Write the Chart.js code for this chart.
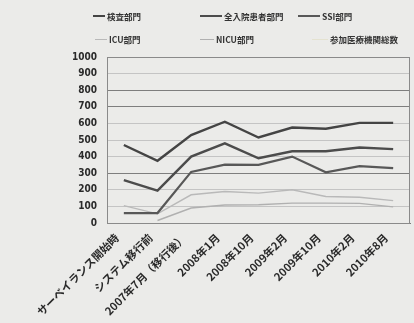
<!DOCTYPE html>
<html>
<head>
<meta charset="utf-8">
<script src="https://cdn.jsdelivr.net/npm/chart.js@4/dist/chart.umd.min.js"></script>
<style>
  html, body { margin: 0; padding: 0; background: #ebebe9; }
  #wrap { position: relative; width: 414px; height: 323px; overflow: hidden; }
  #chart { position: absolute; left: 0; top: 0; }
  .leg { position: absolute; display: flex; align-items: center; font-family: "Noto Sans CJK JP", sans-serif; font-weight: 700; font-size: 8.5px; color: #333; white-space: nowrap; }
  .leg i { display: inline-block; height: 0; margin-right: 2px; }
</style>
</head>
<body>
<div id="wrap">
  <canvas id="chart" width="414" height="323"></canvas>
</div>
<script>
// 調査時点
const periods = ['サーベイランス開始時', 'システム移行前', '2007年7月（移行後）', '2008年1月', '2008年10月', '2009年2月', '2009年10月', '2010年2月', '2010年8月'];

// 部門名
const seriesNames = ['検査部門', '全入院患者部門', 'SSI部門', 'ICU部門', 'NICU部門', '参加医療機関総数'];

// 部門別の参加施設数
const kensa    = [470, 375, 530, 610, 515, 575, 568, 603, 603];
const zennyuin = [258, 195, 400, 480, 390, 432, 432, 455, 445];
const ssi      = [60, 60, 308, 352, 350, 400, 305, 343, 330];
const icu      = [105, 55, 170, 190, 180, 200, 160, 155, 135];
const nicu     = [null, 15, 90, 108, 110, 120, 120, 118, 97];
const sanka    = [];

const yTicks = [0, 100, 200, 300, 400, 500, 600, 700, 800, 900, 1000];

const seriesData = [kensa, zennyuin, ssi, icu, nicu, sanka];
const colors = ['#444444', '#4c4c4c', '#585858', '#b9b9b9', '#b0b0b0', '#e4e2d0'];
const widths = [2.4, 2.4, 2.2, 1.4, 1.4, 1.4];

// 凡例（2段3列）
const legendPos = [
  [93, 17, 12], [200, 17, 22], [298, 17, 22],
  [95, 40, 12], [200, 40, 14], [312, 40, 16]
];
const wrap = document.getElementById('wrap');
seriesNames.forEach((name, i) => {
  const d = document.createElement('div');
  d.className = 'leg';
  d.style.left = legendPos[i][0] + 'px';
  d.style.top = (legendPos[i][1] - 7) + 'px';
  const line = document.createElement('i');
  line.style.width = legendPos[i][2] + 'px';
  line.style.borderTop = (i < 3 ? 2 : 1.5) + 'px solid ' + colors[i];
  d.appendChild(line);
  d.appendChild(document.createTextNode(name));
  wrap.appendChild(d);
});

const strongGrid = [0, 300, 700, 800, 1000];

const frame = {
  id: 'frame',
  beforeDatasetsDraw(chart) {
    const a = chart.chartArea, ctx = chart.ctx;
    ctx.save();
    ctx.strokeStyle = '#8a8a8a';
    ctx.lineWidth = 1;
    ctx.strokeRect(a.left + 0.5, a.top + 0.5, a.right - a.left - 1, a.bottom - a.top);
    ctx.restore();
  }
};

new Chart(document.getElementById('chart'), {
  type: 'line',
  data: {
    labels: periods,
    datasets: seriesNames.map((n, i) => ({
      label: n,
      data: seriesData[i],
      borderColor: colors[i],
      backgroundColor: colors[i],
      borderWidth: widths[i],
      pointRadius: 0,
      tension: 0,
      spanGaps: false
    }))
  },
  options: {
    responsive: false,
    devicePixelRatio: 1,
    animation: false,
    layout: { padding: { top: 57, right: 4, left: 73, bottom: 0 } },
    plugins: { legend: { display: false }, tooltip: { enabled: false } },
    scales: {
      x: {
        offset: true,
        afterFit(scale) { scale.height = 100; },
        grid: { display: false, drawTicks: true, tickLength: 3 },
        border: { color: '#777' },
        ticks: {
          minRotation: 45, maxRotation: 45, autoSkip: false, padding: 5, labelOffset: -7,
          color: '#2a2a2a',
          font: { family: '"Noto Sans CJK JP", sans-serif', size: 11, weight: 'bold' }
        }
      },
      y: {
        min: 0, max: 1000,
        afterBuildTicks(scale) { scale.ticks = yTicks.map(v => ({ value: v })); },
        afterFit(scale) { scale.width = 34; },
        grid: {
          color: ctx => strongGrid.includes(ctx.tick && ctx.tick.value) ? '#7e7e7e' : '#c4c4c4',
          drawTicks: false
        },
        border: { color: '#777' },
        ticks: {
          padding: 10,
          color: '#2a2a2a',
          callback: v => String(v),
          font: { family: '"Liberation Sans Narrow", "DejaVu Sans Condensed", sans-serif', size: 10, weight: 'bold' }
        }
      }
    }
  },
  plugins: [frame]
});
</script>
</body>
</html>
